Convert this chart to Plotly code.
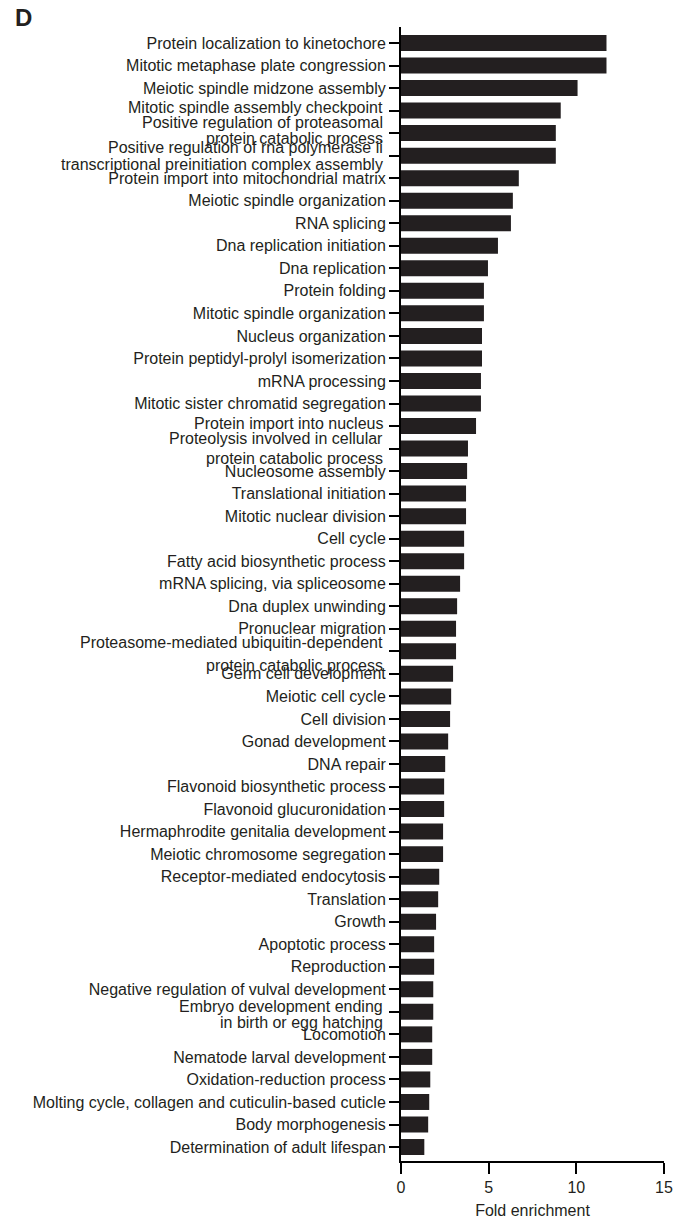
import plotly.graph_objects as go

# Category labels (two-line labels use "|" to mark the line break)
labels = [
    "Protein localization to kinetochore",
    "Mitotic metaphase plate congression",
    "Meiotic spindle midzone assembly",
    "Mitotic spindle assembly checkpoint",
    "Positive regulation of proteasomal|protein catabolic process",
    "Positive regulation of rna polymerase ii|transcriptional preinitiation complex assembly",
    "Protein import into mitochondrial matrix",
    "Meiotic spindle organization",
    "RNA splicing",
    "Dna replication initiation",
    "Dna replication",
    "Protein folding",
    "Mitotic spindle organization",
    "Nucleus organization",
    "Protein peptidyl-prolyl isomerization",
    "mRNA processing",
    "Mitotic sister chromatid segregation",
    "Protein import into nucleus",
    "Proteolysis involved in cellular|protein catabolic process",
    "Nucleosome assembly",
    "Translational initiation",
    "Mitotic nuclear division",
    "Cell cycle",
    "Fatty acid biosynthetic process",
    "mRNA splicing, via spliceosome",
    "Dna duplex unwinding",
    "Pronuclear migration",
    "Proteasome-mediated ubiquitin-dependent|protein catabolic process",
    "Germ cell development",
    "Meiotic cell cycle",
    "Cell division",
    "Gonad development",
    "DNA repair",
    "Flavonoid biosynthetic process",
    "Flavonoid glucuronidation",
    "Hermaphrodite genitalia development",
    "Meiotic chromosome segregation",
    "Receptor-mediated endocytosis",
    "Translation",
    "Growth",
    "Apoptotic process",
    "Reproduction",
    "Negative regulation of vulval development",
    "Embryo development ending|in birth or egg hatching",
    "Locomotion",
    "Nematode larval development",
    "Oxidation-reduction process",
    "Molting cycle, collagen and cuticulin-based cuticle",
    "Body morphogenesis",
    "Determination of adult lifespan",
]

fold_enrichment = [
    11.72, 11.72, 10.07, 9.11, 8.83, 8.83, 6.72, 6.38, 6.27, 5.53,
    4.96, 4.73, 4.73, 4.62, 4.62, 4.56, 4.56, 4.28, 3.82, 3.77,
    3.71, 3.71, 3.60, 3.60, 3.37, 3.20, 3.14, 3.14, 2.97, 2.86,
    2.80, 2.69, 2.52, 2.46, 2.46, 2.40, 2.40, 2.18, 2.12, 2.00,
    1.89, 1.89, 1.84, 1.84, 1.78, 1.78, 1.67, 1.61, 1.55, 1.33,
]

x_ticks = [0, 5, 10, 15]
x_title = "Fold enrichment"
panel_label = "D"

# style: vertical offsets (px, positive = down) of label lines that sit off their tick
label_offsets = {
    3: (-3,),
    4: (-11, 5),
    5: (-8, 9),
    17: (-3,),
    18: (-10, 10),
    27: (-9, 14),
    43: (-5, 11),
}

FONT = "Liberation Sans, Arial, sans-serif"
TXT = "#231f20"
FS = 16

cats = [s.replace("|", " ") for s in labels]
ticktext = ["" if i in label_offsets else s for i, s in enumerate(labels)]

fig = go.Figure(
    go.Bar(
        x=fold_enrichment,
        y=cats,
        orientation="h",
        marker=dict(color="#231f20", line=dict(width=0)),
        width=0.71,
    )
)

W, H = 674, 1219
L, R, T, B = 400.7, 9.7, 27, 58
pw = W - L - R
ph = H - T - B

annotations = [
    dict(
        text="<b>%s</b>" % panel_label,
        xref="paper", yref="paper",
        x=(12 - L) / pw, y=1 + (T - 2) / ph,
        xanchor="left", yanchor="top",
        showarrow=False,
        font=dict(size=24, family=FONT, color=TXT),
    )
]
for i, s in enumerate(labels):
    if i in label_offsets:
        parts = s.split("|")
        for part, off in zip(parts, label_offsets[i]):
            annotations.append(
                dict(
                    text=part,
                    xref="paper", yref="y",
                    x=0, y=i,
                    xanchor="right", yanchor="middle",
                    xshift=-16, yshift=-off,
                    showarrow=False,
                    font=dict(size=FS, family=FONT, color=TXT),
                )
            )

n = len(labels)
fig.update_layout(
    width=W,
    height=H,
    margin=dict(l=L, r=R, t=T, b=B, autoexpand=False),
    paper_bgcolor="white",
    plot_bgcolor="white",
    font=dict(family=FONT, color=TXT, size=FS),
    showlegend=False,
    annotations=annotations,
)

fig.update_xaxes(
    range=[0, 15],
    tickvals=x_ticks,
    ticks="outside",
    ticklen=11,
    tickwidth=2,
    tickcolor="black",
    showline=True,
    linewidth=2,
    linecolor="black",
    showgrid=False,
    zeroline=False,
    tickfont=dict(size=FS),
    title=dict(text=x_title, font=dict(size=FS), standoff=12),
)

fig.update_yaxes(
    type="category",
    categoryorder="array",
    categoryarray=cats,
    tickmode="array",
    tickvals=cats,
    ticktext=ticktext,
    range=[n - 1 + 0.62, -0.71],
    ticks="outside",
    ticklen=10,
    tickwidth=2,
    tickcolor="black",
    showline=True,
    linewidth=2,
    linecolor="black",
    showgrid=False,
    zeroline=False,
    tickfont=dict(size=FS),
)

fig.write_html(
    "out.html",
    config={"displayModeBar": False, "staticPlot": True},
    post_script=(
        "document.documentElement.style.margin='0';"
        "document.documentElement.style.overflow='hidden';"
        "document.body.style.margin='0';"
        "document.body.style.overflow='hidden';"
    ),
)
